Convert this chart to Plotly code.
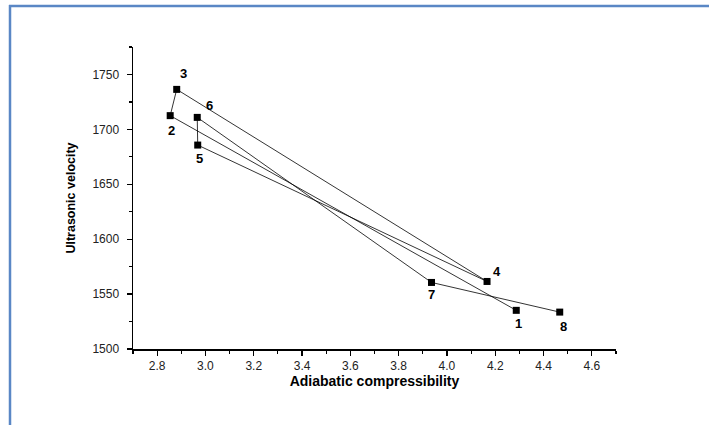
import plotly.graph_objects as go

# Data
point_labels = ["1", "2", "3", "4", "5", "6", "7", "8"]
compressibility = [4.287, 2.854, 2.881, 4.166, 2.968, 2.966, 3.936, 4.467]
velocity = [1535.2, 1712.5, 1736.4, 1561.5, 1685.7, 1710.9, 1560.6, 1533.6]
x_ticks = [2.8, 3.0, 3.2, 3.4, 3.6, 3.8, 4.0, 4.2, 4.4, 4.6]
y_ticks = [1500, 1550, 1600, 1650, 1700, 1750]

# label offsets (pixels) per point: (xshift, yshift)
label_offsets = [(2, -13), (1, -15), (7, 16), (10, 10), (2, -13), (12, 12), (0, -12), (4, -14)]

W, H = 709, 425
ML, MR, MT, MB = 133, 93, 47, 76
PW, PH = W - ML - MR, H - MT - MB

fig = go.Figure()
fig.add_trace(go.Scatter(
    x=compressibility, y=velocity, mode="lines+markers",
    line=dict(color="black", width=0.8),
    marker=dict(symbol="square", size=7, color="black"),
    showlegend=False, hoverinfo="skip",
))

for lab, xv, yv, (dx, dy) in zip(point_labels, compressibility, velocity, label_offsets):
    fig.add_annotation(x=xv, y=yv, text="<b>%s</b>" % lab, showarrow=False,
                       xshift=dx, yshift=dy,
                       font=dict(family="Arial, Liberation Sans", size=13, color="black"))

def px_to_paper_x(px):
    return (px - ML) / PW

def px_to_paper_y(py):
    return (H - MB - py) / PH

blue = "#5a87c5"
fig.add_shape(type="line", xref="paper", yref="paper",
              x0=px_to_paper_x(9), x1=px_to_paper_x(W + 2),
              y0=px_to_paper_y(6), y1=px_to_paper_y(6),
              line=dict(color=blue, width=2.5))
fig.add_shape(type="line", xref="paper", yref="paper",
              x0=px_to_paper_x(10), x1=px_to_paper_x(10),
              y0=px_to_paper_y(5), y1=px_to_paper_y(H + 2),
              line=dict(color=blue, width=2.5))

axis_font = dict(family="Arial, Liberation Sans", size=12, color="#222")
fig.update_xaxes(
    range=[2.7, 4.7], tickvals=x_ticks, ticktext=["%.1f" % v for v in x_ticks],
    showgrid=False, zeroline=False, showline=True, linecolor="black", linewidth=1.5,
    ticks="outside", ticklen=5, tickwidth=1.2, tickcolor="black", tickfont=axis_font,
    minor=dict(dtick=0.1, tick0=0, ticks="outside", ticklen=3, tickwidth=1.2, tickcolor="black", showgrid=False),
    title=dict(text="<b>Adiabatic compressibility</b>", standoff=3,
               font=dict(family="Arial, Liberation Sans", size=14, color="black")),
)
fig.update_yaxes(
    range=[1500, 1775], tickvals=y_ticks, ticklabelstandoff=5,
    showgrid=False, zeroline=False, showline=True, linecolor="black", linewidth=1.5,
    ticks="outside", ticklen=5, tickwidth=1.2, tickcolor="black", tickfont=axis_font,
    minor=dict(dtick=25, tick0=0, ticks="outside", ticklen=3, tickwidth=1.2, tickcolor="black", showgrid=False),
    title=dict(text="<b>Ultrasonic velocity</b>", standoff=14,
               font=dict(family="Arial, Liberation Sans", size=12.5, color="black")),
)
fig.update_layout(
    width=W, height=H,
    margin=dict(l=ML, r=MR, t=MT, b=MB, autoexpand=False),
    paper_bgcolor="white", plot_bgcolor="white",
)
fig.write_html("out.html", config={"displayModeBar": False, "staticPlot": True},
               post_script="document.body.style.margin='0';")
